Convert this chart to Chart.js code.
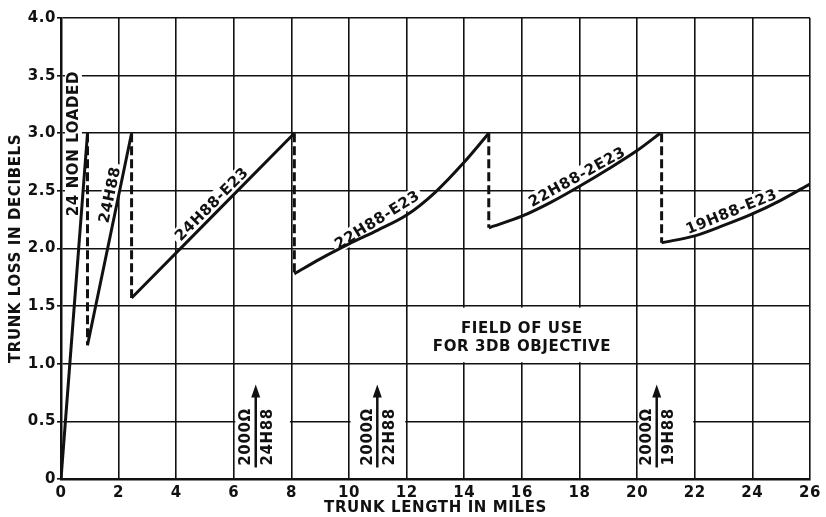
<!DOCTYPE html>
<html>
<head>
<meta charset="utf-8">
<script src="https://cdn.jsdelivr.net/npm/chart.js@4.4.1/dist/chart.umd.min.js"></script>
<style>
html, body { margin: 0; padding: 0; background: #fff; }
canvas { display: block; }
</style>
</head>
<body>
<canvas id="chart" width="826" height="517"></canvas>
<script>
// trunk loss (db) against trunk length (miles), one pair of arrays per cable section
var nonLoadedMiles = [0, 0.92];
var nonLoadedLoss = [0, 3.0];
var h88Miles = [0.92, 2.45];
var h88Loss = [1.16, 3.0];
var h88e23Miles = [2.45, 8.1];
var h88e23Loss = [1.57, 3.0];
var h88e23_22Miles = [8.1, 9, 10, 11, 12, 13, 14, 14.85];
var h88e23_22Loss = [1.78, 1.91, 2.04, 2.16, 2.29, 2.49, 2.75, 3.0];
var h882e23Miles = [14.85, 16, 17, 18, 19, 20, 20.8];
var h882e23Loss = [2.18, 2.28, 2.40, 2.54, 2.69, 2.85, 3.0];
var h88e23_19Miles = [20.85, 22, 23, 24, 25, 26];
var h88e23_19Loss = [2.05, 2.11, 2.20, 2.30, 2.42, 2.56];

// dashed drops where the next section takes over
var dropMiles = [0.92, 2.45, 8.1, 14.85, 20.85];
var dropTop = [3.0, 3.0, 3.0, 3.0, 3.0];
var dropBottom = [1.16, 1.57, 1.78, 2.18, 2.05];

// axis ticks
var xTickLabels = ['0', '2', '4', '6', '8', '10', '12', '14', '16', '18', '20', '22', '24', '26'];
var yTickLabels = ['0', '0.5', '1.0', '1.5', '2.0', '2.5', '3.0', '3.5', '4.0'];

// 2000 ohm arrows
var arrowMiles = [6.76, 10.98, 20.68];
var arrowLeftText = ['2000Ω', '2000Ω', '2000Ω'];
var arrowRightText = ['24H88', '22H88', '19H88'];

var ink = '#111';
var fontName = '"DejaVu Sans", sans-serif';
var labelFont = 'bold 15px ' + fontName;
var spacing = '0.6px';

function pts(xs, ys) {
    return xs.map(function(x, i) { return { x: x, y: ys[i] }; });
}

var drops = [];
dropMiles.forEach(function(x, i) {
    drops.push({ x: x, y: dropTop[i] }, { x: x, y: dropBottom[i] }, { x: x, y: null });
});

// labels along the curves: anchor sits on the line, text is lifted above it
var curveLabels = [
    { text: '24 NON LOADED', x: 0.90, y: 2.91, angle: -90, lift: 7 },
    { text: '24H88', x: 1.99, y: 2.45, angle: -78, lift: 2.5 },
    { text: '24H88-E23', x: 5.45, y: 2.33, angle: -45, lift: 2.5 },
    { text: '22H88-E23', x: 11.15, y: 2.18, angle: -32, lift: 3 },
    { text: '22H88-2E23', x: 18.07, y: 2.55, angle: -29, lift: 3 },
    { text: '19H88-E23', x: 23.4, y: 2.24, angle: -22, lift: 3.5 }
];

// grid cells blanked out behind the notes [x0, x1, y0, y1]
var blankCells = [[6, 8, 0, 1.0], [10, 12, 0, 1.0], [20, 22, 0, 1.0], [12, 20, 1.0, 1.5]];

function eachLabel(chart, fn) {
    var c = chart.ctx, xs = chart.scales.x, ys = chart.scales.y;
    curveLabels.forEach(function(lb) {
        var h = 13;
        c.save();
        c.font = labelFont;
        c.letterSpacing = spacing;
        c.translate(xs.getPixelForValue(lb.x), ys.getPixelForValue(lb.y));
        c.rotate(lb.angle * Math.PI / 180);
        var w = c.measureText(lb.text).width;
        fn(c, lb, w, h, -(h / 2 + lb.lift));
        c.restore();
    });
}

var annotate = {
    id: 'annotate',
    beforeUpdate: function(chart) { chart.ctx.letterSpacing = spacing; },
    beforeDraw: function(chart) { chart.ctx.letterSpacing = spacing; },
    beforeDatasetsDraw: function(chart) {
        var c = chart.ctx, xs = chart.scales.x, ys = chart.scales.y;
        c.save();
        c.fillStyle = '#fff';
        blankCells.forEach(function(b) {
            var l = xs.getPixelForValue(b[0]) + 1.5;
            var r = xs.getPixelForValue(b[1]) - 1.5;
            var t = ys.getPixelForValue(b[3]) + 1.5;
            var bt = ys.getPixelForValue(b[2]) - 1.5;
            c.fillRect(l, t, r - l, bt - t);
        });
        c.restore();
        // white backing under the curve labels, so the grid breaks but the curves stay on top
        eachLabel(chart, function(c, lb, w, h, cy) {
            c.fillStyle = '#fff';
            c.fillRect(-w / 2 - 3, cy - h / 2 - 2, w + 6, h + 4);
        });
    },
    afterDatasetsDraw: function(chart) {
        var c = chart.ctx, xs = chart.scales.x, ys = chart.scales.y;
        eachLabel(chart, function(c, lb, w, h, cy) {
            c.fillStyle = ink;
            c.textAlign = 'center';
            c.textBaseline = 'middle';
            c.fillText(lb.text, 0, cy + 1);
        });

        c.save();
        c.letterSpacing = spacing;
        c.font = labelFont;
        c.textAlign = 'center';
        c.textBaseline = 'middle';
        c.fillStyle = ink;

        // field of use note
        var fx = xs.getPixelForValue(16), fy = ys.getPixelForValue(1.23);
        c.fillText('FIELD OF USE', fx, fy - 8);
        c.fillText('FOR 3DB OBJECTIVE', fx, fy + 10);

        // arrows with rotated notes either side
        arrowMiles.forEach(function(x, i) {
            var px = xs.getPixelForValue(x);
            var top = ys.getPixelForValue(0.82), bottom = ys.getPixelForValue(0.10);
            c.strokeStyle = ink;
            c.lineWidth = 2.5;
            c.beginPath();
            c.moveTo(px, bottom);
            c.lineTo(px, top + 10);
            c.stroke();
            c.beginPath();
            c.moveTo(px, top);
            c.lineTo(px - 4.5, top + 13);
            c.lineTo(px + 4.5, top + 13);
            c.closePath();
            c.fill();
            var my = ys.getPixelForValue(0.365);
            [[-10.5, arrowLeftText[i]], [11.5, arrowRightText[i]]].forEach(function(t) {
                c.save();
                c.translate(px + t[0], my);
                c.rotate(-Math.PI / 2);
                c.fillText(t[1], 0, 1);
                c.restore();
            });
        });
        c.restore();
    }
};

function solid(data) {
    return {
        data: data, borderColor: ink, borderWidth: 3, pointRadius: 0,
        cubicInterpolationMode: 'monotone', fill: false
    };
}

var axisFont = { family: fontName, size: 15, weight: 'bold' };

var ctx = document.getElementById('chart').getContext('2d');
var chart = new Chart(ctx, {
    type: 'line',
    data: {
        datasets: [
            solid(pts(nonLoadedMiles, nonLoadedLoss)),
            solid(pts(h88Miles, h88Loss)),
            solid(pts(h88e23Miles, h88e23Loss)),
            solid(pts(h88e23_22Miles, h88e23_22Loss)),
            solid(pts(h882e23Miles, h882e23Loss)),
            solid(pts(h88e23_19Miles, h88e23_19Loss)),
            { data: drops, borderColor: ink, borderWidth: 3, borderDash: [9, 4], pointRadius: 0, spanGaps: false, fill: false }
        ]
    },
    options: {
        responsive: false,
        animation: false,
        devicePixelRatio: 1,
        layout: { padding: { top: 18, right: 12, left: 0, bottom: 0 } },
        plugins: { legend: { display: false }, tooltip: { enabled: false } },
        scales: {
            x: {
                type: 'linear',
                min: 0,
                max: 26,
                afterFit: function(s) { s.height = 38; },
                ticks: {
                    stepSize: 2,
                    padding: 5,
                    color: ink,
                    font: axisFont,
                    callback: function(v, i) { return xTickLabels[i]; }
                },
                grid: { color: ink, lineWidth: 1.6, drawTicks: false },
                border: { color: ink, width: 2.5 },
                title: {
                    display: true,
                    text: 'TRUNK LENGTH IN MILES',
                    color: ink,
                    font: axisFont,
                    padding: { top: 0, bottom: 0 }
                }
            },
            y: {
                min: 0,
                max: 4,
                afterFit: function(s) { s.width = 61; },
                ticks: {
                    stepSize: 0.5,
                    padding: 1,
                    color: ink,
                    font: axisFont,
                    callback: function(v, i) { return yTickLabels[i]; }
                },
                grid: { color: ink, lineWidth: 1.6, tickLength: 4 },
                border: { color: ink, width: 2.5 },
                title: {
                    display: true,
                    text: 'TRUNK LOSS IN DECIBELS',
                    color: ink,
                    font: axisFont,
                    padding: { top: 7, bottom: 0 }
                }
            }
        }
    },
    plugins: [annotate]
});
</script>
</body>
</html>
